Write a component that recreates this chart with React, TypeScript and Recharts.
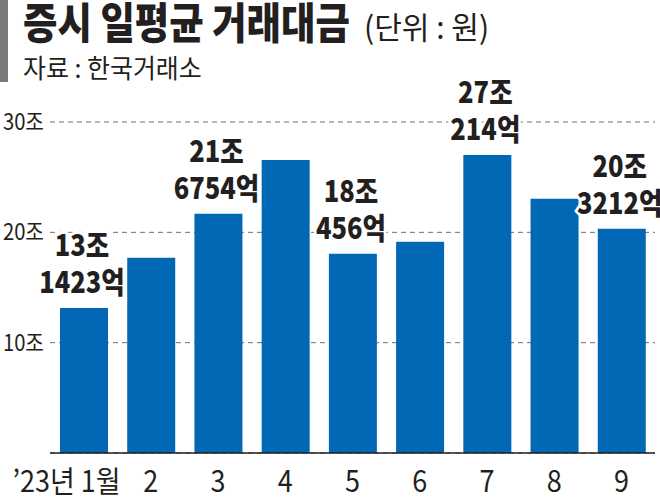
import React from "react";
import {
  BarChart,
  Bar,
  XAxis,
  YAxis,
  CartesianGrid,
  LabelList,
} from "recharts";

const FONT = "'Noto Sans CJK KR', 'Noto Sans', sans-serif";
const INK = "#231f20";
const BLUE = "#0068b5";

// 월별 일평균 거래대금 (조원)
const months = ["’23년 1월", "2", "3", "4", "5", "6", "7", "8", "9"];
const amounts = [13.14, 17.7, 21.68, 26.55, 18.05, 19.15, 27.02, 23.05, 20.32];
const labelTop = ["13조", "", "21조", "", "18조", "", "27조", "", "20조"];
const labelBottom = ["1423억", "", "6754억", "", "456억", "", "214억", "", "3212억"];
const yTicks = [10, 20, 30];

const data = months.map((m, i) => ({
  month: m,
  amount: amounts[i],
  top: labelTop[i],
  bottom: labelBottom[i],
}));

const XTick = (props: any) => {
  const { x, y, payload, index } = props;
  const first = index === 0;
  return (
    <text
      transform={`translate(${first ? x + 37 : x},${y + 39}) scale(0.9,1)`}
      textAnchor={first ? "end" : "middle"}
      fontFamily={FONT}
      fontSize={30}
      fill={INK}
    >
      {payload.value}
    </text>
  );
};

const YTick = (props: any) => {
  const { x, y, payload } = props;
  return (
    <text
      transform={`translate(${x - 6},${y + 8}) scale(0.88,1)`}
      textAnchor="end"
      fontFamily={FONT}
      fontSize={23}
      fill={INK}
    >
      {payload.value}조
    </text>
  );
};

const ValueLabel = (props: any) => {
  const { x, y, width, index } = props;
  const top = labelTop[index];
  if (!top) return null;
  const cx = x + width / 2 - 2;
  const style = { paintOrder: "stroke" as const };
  return (
    <g>
      <text
        transform={`translate(${cx},${y - 52}) scale(0.85,1)`}
        textAnchor="middle"
        fontFamily={FONT}
        fontWeight={900}
        fontSize={30}
        fill={INK}
        stroke="#fff"
        strokeWidth={6}
        style={style}
      >
        {top}
      </text>
      <text
        transform={`translate(${cx},${y - 15}) scale(0.85,1)`}
        textAnchor="middle"
        fontFamily={FONT}
        fontWeight={900}
        fontSize={30}
        fill={INK}
        stroke="#fff"
        strokeWidth={6}
        style={style}
      >
        {labelBottom[index]}
      </text>
    </g>
  );
};

export default function App() {
  return (
    <div
      style={{
        position: "absolute",
        left: 0,
        top: 0,
        width: 660,
        height: 497,
        background: "#fff",
        overflow: "hidden",
      }}
    >
      <BarChart
        width={660}
        height={497}
        data={data}
        margin={{ top: 122, right: 5, bottom: 0, left: 0 }}
        barSize={48}
      >
        <CartesianGrid
          vertical={false}
          stroke="#6d6e71"
          strokeDasharray="5 4"
          strokeWidth={1}
        />
        <XAxis
          dataKey="month"
          height={44}
          tickSize={0}
          tickMargin={0}
          tickLine={false}
          axisLine={{ stroke: INK, strokeWidth: 1.5 }}
          tick={<XTick />}
          interval={0}
        />
        <YAxis
          width={50}
          domain={[0, 30]}
          ticks={yTicks}
          tickSize={0}
          tickMargin={0}
          axisLine={false}
          tickLine={false}
          tick={<YTick />}
        />
        <Bar dataKey="amount" fill={BLUE} isAnimationActive={false}>
          <LabelList dataKey="top" content={<ValueLabel />} />
        </Bar>
      </BarChart>
      <svg
        width={660}
        height={110}
        style={{ position: "absolute", left: 0, top: 0 }}
      >
        <rect x={0} y={0} width={8} height={82} fill="#7a7a7a" />
        <text
          transform="translate(23,39) scale(0.87,1)"
          fontFamily={FONT}
          fontWeight={900}
          fontSize={43}
          fill={INK}
        >
          증시 일평균 거래대금
        </text>
        <text
          transform="translate(364,39) scale(0.97,1)"
          fontFamily={FONT}
          fontSize={31}
          fill={INK}
        >
          (단위 : 원)
        </text>
        <text
          transform="translate(23,78) scale(0.96,1)"
          fontFamily={FONT}
          fontSize={26}
          fill={INK}
        >
          자료 : 한국거래소
        </text>
      </svg>
    </div>
  );
}
